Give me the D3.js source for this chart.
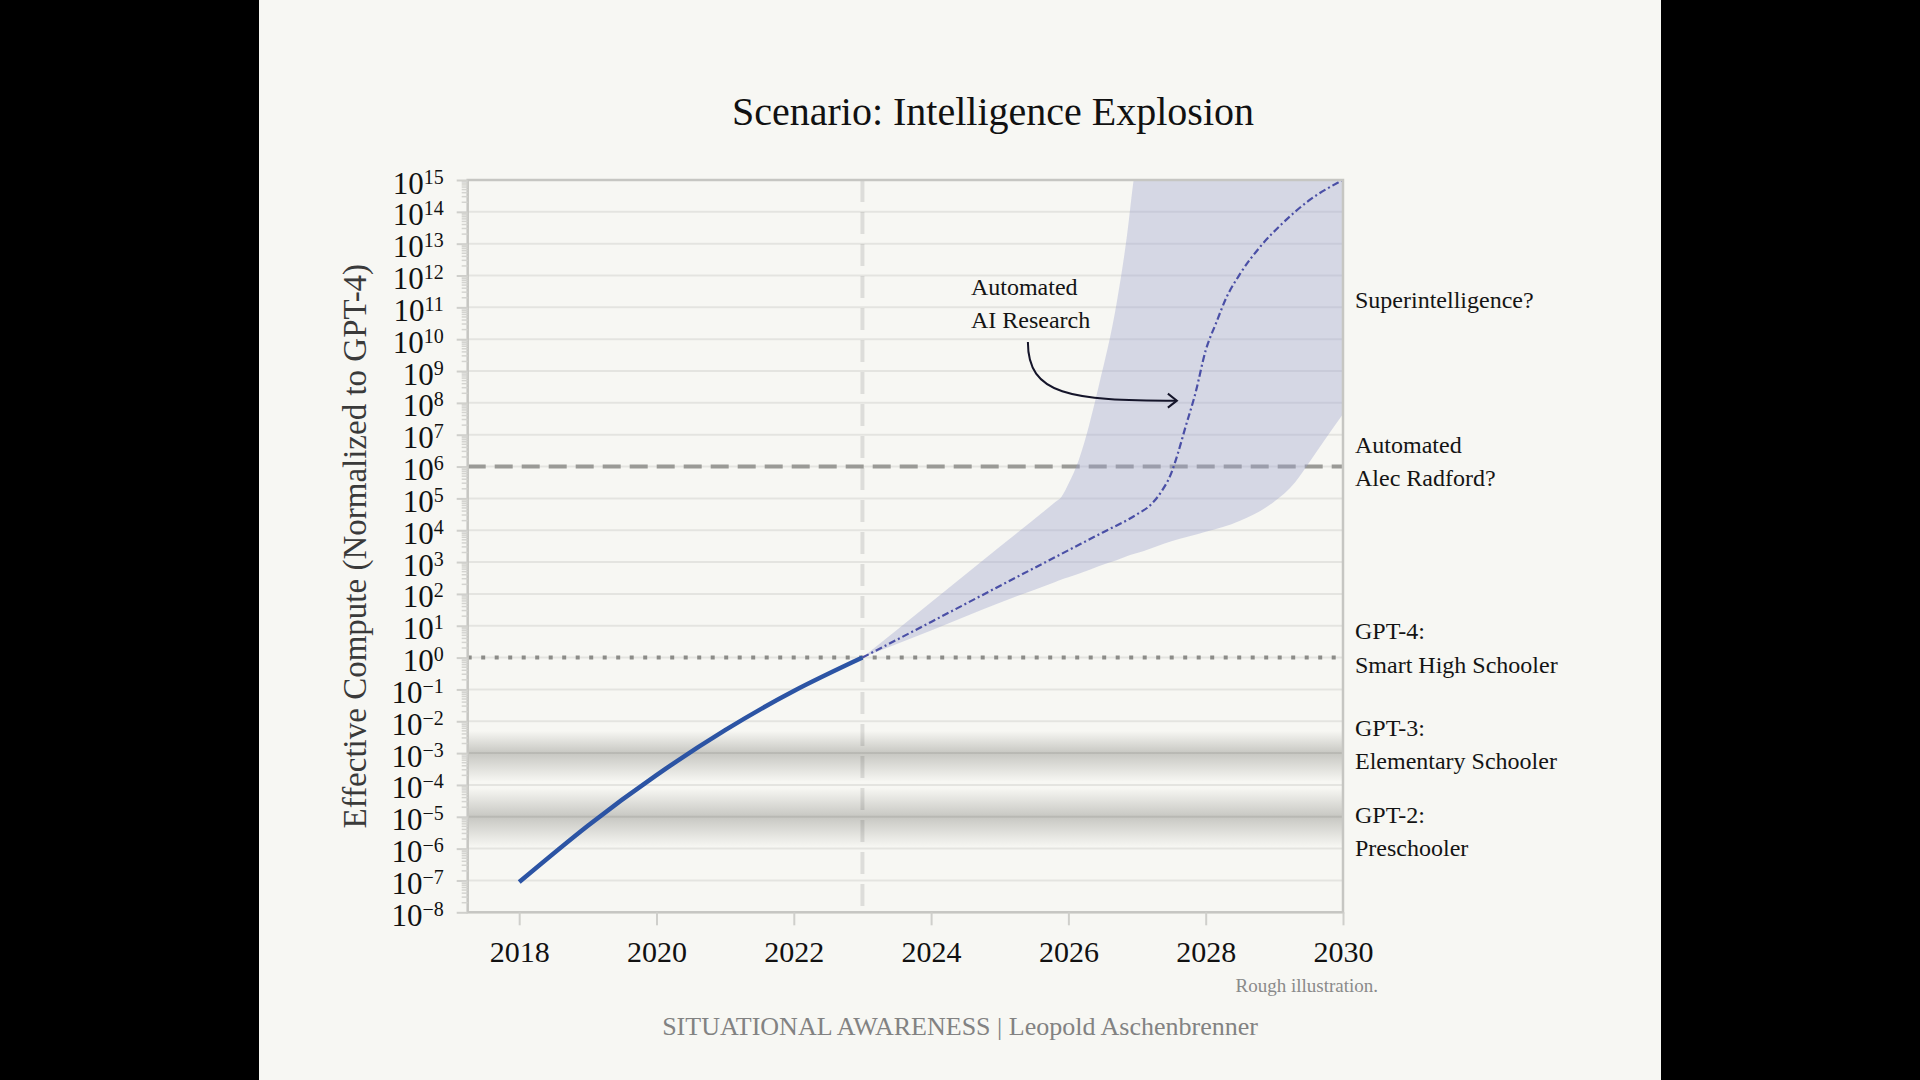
<!DOCTYPE html>
<html>
<head>
<meta charset="utf-8">
<script src="https://cdn.jsdelivr.net/npm/d3@7"></script>
<style>
  html, body { margin: 0; padding: 0; background: #000; }
  svg { display: block; }
  text { font-family: 'Liberation Serif', 'DejaVu Serif', serif; }
</style>
</head>
<body>
<svg id="chart"></svg>
<script>
// all values are exponents of 10 (effective compute normalized to GPT-4)
const histYears = [2018, 2019, 2020, 2021, 2022, 2023];
const histExp = [-7.05, -5.28, -3.69, -2.28, -1.05, 0];

const bandYears = [2023, 2024, 2025, 2025.8, 2025.9, 2026.0, 2026.15, 2026.45, 2026.7, 2026.85,
                   2026.95, 2027.1, 2027.5, 2028, 2028.5, 2029, 2029.3, 2029.5, 2029.7, 2030];
const bandUpperExp = [0, 1.74, 3.48, 4.87, 5.05, 5.45, 6.2, 8.6, 11.1, 13.2,
                      15, 17, 17, 17, 17, 17, 17, 17, 17, 17];
const bandLowerExp = [0, 0.85, 1.72, 2.37, 2.45, 2.52, 2.63, 2.88, 3.06, 3.18,
                      3.25, 3.35, 3.65, 3.95, 4.3, 4.9, 5.5, 6.1, 6.73, 7.65];

const medianYears = [2023, 2024, 2025, 2026, 2026.5, 2027, 2027.2, 2027.35, 2027.5, 2027.6,
                     2027.7, 2027.85, 2028, 2028.15, 2028.3, 2028.5, 2028.8, 2029.1, 2029.5, 2030];
const medianExp = [0, 1.12, 2.25, 3.37, 3.93, 4.5, 4.8, 5.2, 5.8, 6.45,
                   7.2, 8.3, 9.65, 10.5, 11.3, 12.05, 12.92, 13.6, 14.35, 15];

const xTickYears = [2018, 2020, 2022, 2024, 2026, 2028, 2030];
const yTickExps = d3.range(-8, 16);

const todayYear = 2023;
const radfordExp = 6;
const gpt4Exp = 0;

const levelBands = [
  {name: 'GPT-3', center: -3, top: -2.3, bottom: -3.9},
  {name: 'GPT-2', center: -5, top: -4.1, bottom: -5.95}
];

const sideLabels = [
  {lines: ['Superintelligence?'], exp: 11.23},
  {lines: ['Automated', 'Alec Radford?'], exp: 6.16},
  {lines: ['GPT-4:', 'Smart High Schooler'], exp: 0.3},
  {lines: ['GPT-3:', 'Elementary Schooler'], exp: -2.73},
  {lines: ['GPT-2:', 'Preschooler'], exp: -5.47}
];

const noteLines = ['Automated', 'AI Research'];
const notePos = [2024.58, 11.12];
const arrowFrom = [2025.41, 9.91];
const arrowTo = [2027.58, 8.07];

const p = e => Math.pow(10, e);

const W = 1920, H = 1080;
const margin = {top: 180, left: 467.7, right: 577, bottom: 167.7};
const width = W - margin.left - margin.right;
const height = H - margin.top - margin.bottom;

const svg = d3.select('#chart').attr('width', W).attr('height', H);

svg.append('rect').attr('width', W).attr('height', H).attr('fill', '#000');
svg.append('rect').attr('x', 259).attr('width', 1402).attr('height', H).attr('fill', '#f7f7f3');

const defs = svg.append('defs');
defs.append('clipPath').attr('id', 'plot-clip')
  .append('rect').attr('width', width).attr('height', height);

const x = d3.scaleLinear().domain([2017.25, 2030]).range([0, width]);
const y = d3.scaleLog().domain([1e-8, 1e15]).range([height, 0]);

const chart = svg.append('g').attr('transform', `translate(${margin.left},${margin.top})`);

// soft grey bands for GPT-3 / GPT-2 levels
levelBands.forEach((b, i) => {
  const mid = (b.top - b.center) / (b.top - b.bottom);
  const g = defs.append('linearGradient').attr('id', 'lvl' + i)
    .attr('x1', 0).attr('x2', 0).attr('y1', 0).attr('y2', 1);
  [[0, 0], [mid * 0.4, 0.4], [mid * 0.8, 0.8], [mid, 1], [mid + (1 - mid) * 0.2, 0.8],
   [mid + (1 - mid) * 0.6, 0.4], [1, 0]].forEach(s => {
    g.append('stop').attr('offset', s[0]).attr('stop-color', '#c7c7c2').attr('stop-opacity', s[1]);
  });
  chart.append('rect')
    .attr('x', 0).attr('width', width)
    .attr('y', y(p(b.top)))
    .attr('height', y(p(b.bottom)) - y(p(b.top)))
    .attr('fill', `url(#lvl${i})`);
});

// gridlines
chart.append('g').selectAll('line').data(yTickExps).join('line')
  .attr('x1', 0).attr('x2', width)
  .attr('y1', d => y(p(d))).attr('y2', d => y(p(d)))
  .attr('stroke', 'rgba(0,0,0,0.075)').attr('stroke-width', 2);

// today marker
chart.append('line')
  .attr('x1', x(todayYear)).attr('x2', x(todayYear))
  .attr('y1', 0).attr('y2', height)
  .attr('stroke', 'rgba(0,0,0,0.1)').attr('stroke-width', 4)
  .attr('stroke-dasharray', '22,10');

// reference levels
chart.append('line')
  .attr('x1', 0).attr('x2', width)
  .attr('y1', y(p(radfordExp))).attr('y2', y(p(radfordExp)))
  .attr('stroke', '#9a9a96').attr('stroke-width', 4)
  .attr('stroke-dasharray', '18,9');

chart.append('line')
  .attr('x1', 0).attr('x2', width)
  .attr('y1', y(p(gpt4Exp))).attr('y2', y(p(gpt4Exp)))
  .attr('stroke', '#8c8c88').attr('stroke-width', 4)
  .attr('stroke-dasharray', '4,9.5');

const plot = chart.append('g').attr('clip-path', 'url(#plot-clip)');

// uncertainty band
const bandData = bandYears.map((yr, i) => ({year: yr, lo: bandLowerExp[i], hi: bandUpperExp[i]}));
const area = d3.area()
  .x(d => x(d.year))
  .y0(d => y(p(d.lo)))
  .y1(d => y(p(d.hi)))
  .curve(d3.curveMonotoneX);
plot.append('path')
  .datum(bandData)
  .attr('d', area)
  .attr('fill', '#9ea3cc')
  .attr('fill-opacity', 0.38);

// median projection
const medianData = medianYears.map((yr, i) => ({year: yr, e: medianExp[i]}));
plot.append('path')
  .datum(medianData)
  .attr('d', d3.line().x(d => x(d.year)).y(d => y(p(d.e))).curve(d3.curveMonotoneX))
  .attr('fill', 'none')
  .attr('stroke', '#4a4fa6')
  .attr('stroke-width', 2.2)
  .attr('stroke-dasharray', '7,3,2,3');

// historical trend
const histData = histYears.map((yr, i) => ({year: yr, e: histExp[i]}));
plot.append('path')
  .datum(histData)
  .attr('d', d3.line().x(d => x(d.year)).y(d => y(p(d.e))).curve(d3.curveNatural))
  .attr('fill', 'none')
  .attr('stroke', '#2c54a4')
  .attr('stroke-width', 4.5);

// frame
chart.append('rect')
  .attr('width', width).attr('height', height)
  .attr('fill', 'none')
  .attr('stroke', '#c6c6c2').attr('stroke-width', 2.5);

// axes
const xAxisG = chart.append('g')
  .attr('class', 'axis x-axis')
  .attr('transform', `translate(0,${height})`)
  .call(d3.axisBottom(x).tickValues(xTickYears).tickFormat(d3.format('d')).tickSize(13).tickSizeOuter(0));
xAxisG.select('.domain').remove();
xAxisG.selectAll('.tick line').attr('stroke', '#cfcfcb').attr('stroke-width', 2);
xAxisG.selectAll('.tick text')
  .attr('y', 49.5).attr('dy', 0)
  .attr('font-size', 30).attr('fill', '#111');

const yAxisG = chart.append('g')
  .attr('class', 'axis y-axis')
  .call(d3.axisLeft(y).tickValues(yTickExps.map(p)).tickSize(11).tickPadding(13).tickFormat(''));
yAxisG.select('.domain').remove();
yAxisG.selectAll('.tick line').attr('stroke', '#cfcfcb').attr('stroke-width', 2);
yAxisG.selectAll('.tick text').each(function(d) {
  const e = Math.round(Math.log10(d));
  const t = d3.select(this).attr('dy', '0.42em').attr('font-size', 31).attr('fill', '#111');
  t.append('tspan').text('10');
  t.append('tspan').attr('font-size', 20).attr('dy', -10)
    .text(e < 0 ? '\u2212' + (-e) : String(e));
});

// minor log ticks
const minorVals = [];
yTickExps.slice(0, -1).forEach(e => d3.range(2, 10).forEach(m => minorVals.push(m * p(e))));
chart.append('g').selectAll('line').data(minorVals).join('line')
  .attr('x1', -6).attr('x2', 0)
  .attr('y1', d => y(d)).attr('y2', d => y(d))
  .attr('stroke', '#d4d4d0').attr('stroke-width', 1.5);

// right-hand labels
const side = chart.append('g').attr('font-size', 24).attr('fill', '#141414');
sideLabels.forEach(l => {
  const cy = y(p(l.exp));
  const n = l.lines.length;
  l.lines.forEach((line, i) => {
    side.append('text')
      .attr('x', width + 12)
      .attr('y', cy + 8 + (i - (n - 1) / 2) * 33.5)
      .text(line);
  });
});

// annotation
const noteY = y(p(notePos[1]));
noteLines.forEach((line, i) => {
  chart.append('text')
    .attr('x', x(notePos[0]))
    .attr('y', noteY + 8 + (i - 0.5) * 33.5)
    .attr('font-size', 24).attr('fill', '#141414')
    .text(line);
});
const ax0 = x(arrowFrom[0]), ay0 = y(p(arrowFrom[1]));
const ax1 = x(arrowTo[0]), ay1 = y(p(arrowTo[1]));
chart.append('path')
  .attr('d', `M${ax0},${ay0} C${ax0},${ay0 + 53} ${ax0 + 42},${ay1} ${ax1},${ay1}`)
  .attr('fill', 'none').attr('stroke', '#15152a').attr('stroke-width', 2);
chart.append('path')
  .attr('d', `M${ax1 - 9},${ay1 - 7} L${ax1},${ay1} L${ax1 - 9},${ay1 + 7}`)
  .attr('fill', 'none').attr('stroke', '#15152a').attr('stroke-width', 2);

// titles
svg.append('text')
  .attr('x', 993).attr('y', 125)
  .attr('text-anchor', 'middle')
  .attr('font-size', 40).attr('fill', '#111')
  .text('Scenario: Intelligence Explosion');

svg.append('text')
  .attr('transform', `translate(366,${margin.top + height / 2}) rotate(-90)`)
  .attr('text-anchor', 'middle')
  .attr('font-size', 33).attr('fill', '#3a3a3a')
  .text('Effective Compute (Normalized to GPT-4)');

svg.append('text')
  .attr('x', 1378).attr('y', 992)
  .attr('text-anchor', 'end')
  .attr('font-size', 19).attr('fill', '#8a8a8a')
  .text('Rough illustration.');

svg.append('text')
  .attr('x', 960).attr('y', 1035)
  .attr('text-anchor', 'middle')
  .attr('font-size', 26).attr('fill', '#828282')
  .text('SITUATIONAL AWARENESS | Leopold Aschenbrenner');
</script>
</body>
</html>
